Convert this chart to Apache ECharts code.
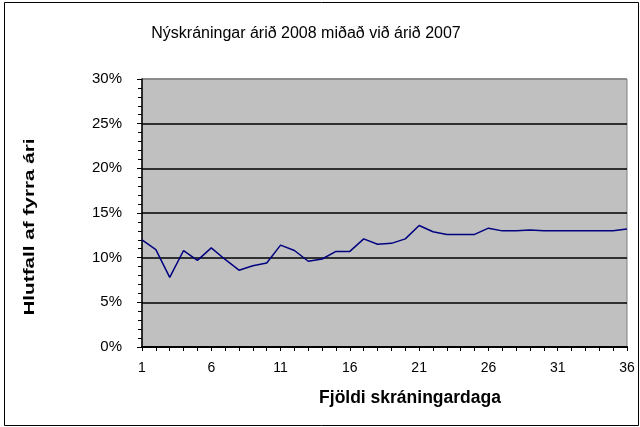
<!DOCTYPE html>
<html>
<head>
<meta charset="utf-8">
<script src="https://cdn.jsdelivr.net/npm/echarts@6/dist/echarts.min.js"></script>
<style>
  html, body { margin: 0; padding: 0; background: #fff; }
  #chart { width: 640px; height: 427px; }
</style>
</head>
<body>
<div id="chart"></div>
<script>
// gögn lesin af myndinni
const chartTitle = 'Nýskráningar árið 2008 miðað við árið 2007';
const xTitle = 'Fjöldi skráningardaga';
const yTitle = 'Hlutfall af fyrra ári';
const days = [];
for (let d = 1; d <= 36; d++) days.push(String(d));
const ratio = [
  12.0, 10.9, 7.8, 10.8, 9.7, 11.1, 9.8, 8.6, 9.1, 9.4,
  11.4, 10.8, 9.6, 9.85, 10.7, 10.7, 12.1, 11.5, 11.6, 12.1,
  13.6, 12.9, 12.6, 12.6, 12.6, 13.3, 13.0, 13.0, 13.1, 13.0,
  13.0, 13.0, 13.0, 13.0, 13.0, 13.2
];

const font = 'Liberation Sans, Arial, sans-serif';
const chart = echarts.init(document.getElementById('chart'));

const option = {
  animation: false,
  backgroundColor: '#fff',
  title: {
    text: chartTitle,
    left: 301,
    top: 21,
    textAlign: 'center',
    textStyle: { fontFamily: font, fontSize: 16, fontWeight: 'normal', color: '#000' }
  },
  grid: {
    left: 142,
    right: 13,
    top: 79,
    bottom: 80,
    show: true,
    backgroundColor: '#C0C0C0',
    borderColor: '#808080',
    borderWidth: 1
  },
  xAxis: {
    type: 'category',
    data: days,
    boundaryGap: false,
    axisLine: { lineStyle: { color: '#000', width: 2 } },
    axisTick: { interval: 0, length: 4, lineStyle: { color: '#000' } },
    axisLabel: { interval: 4, fontFamily: font, fontSize: 14, color: '#000', margin: 14 },
    splitLine: { show: false }
  },
  yAxis: {
    type: 'value',
    min: 0,
    max: 30,
    interval: 5,
    axisLine: { show: true, lineStyle: { color: '#000', width: 1.5 } },
    axisTick: { show: true, length: 5, lineStyle: { color: '#000' } },
    minorTick: { show: true, splitNumber: 5, length: 4, lineStyle: { color: '#000' } },
    axisLabel: { formatter: '{value}%', fontFamily: font, fontSize: 15, color: '#000', margin: 20 },
    splitLine: {
      lineStyle: { color: ['#000', '#000', '#000', '#000', '#000', '#000', '#808080'], width: 1.5 }
    }
  },
  series: [{
    type: 'line',
    data: ratio,
    symbol: 'none',
    lineStyle: { color: '#000080', width: 1.5 },
    itemStyle: { color: '#000080' }
  }],
  graphic: [
    {
      type: 'rect',
      shape: { x: 4.5, y: 2.5, width: 634, height: 423 },
      style: { fill: 'none', stroke: '#000', lineWidth: 1 },
      silent: true
    },
    {
      type: 'text',
      x: 410,
      y: 398,
      style: {
        text: xTitle, font: 'bold 17.5px ' + font, fill: '#000',
        textAlign: 'center', textVerticalAlign: 'middle'
      }
    },
    {
      type: 'text',
      x: 30,
      y: 227,
      rotation: Math.PI / 2,
      scaleX: 1.38,
      style: {
        text: yTitle, font: 'bold 15px ' + font, fill: '#000',
        textAlign: 'center', textVerticalAlign: 'middle'
      }
    }
  ]
};

chart.setOption(option);
</script>
</body>
</html>
